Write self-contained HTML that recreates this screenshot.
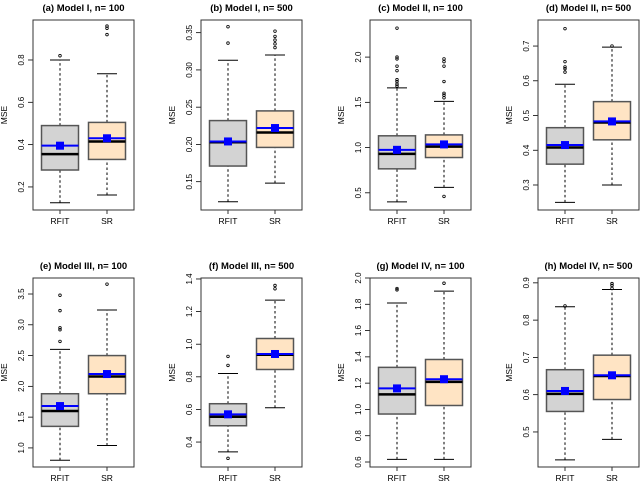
<!DOCTYPE html>
<html><head><meta charset="utf-8"><style>
html,body{margin:0;padding:0;background:#fff;}
svg{display:block;font-family:"Liberation Sans",Arial,sans-serif;}
</style></head><body>
<svg id="chart" width="640" height="482" viewBox="0 0 640 482"></svg>
<script>
const panelTitles = ["(a) Model I, n= 100","(b) Model I, n= 500","(c) Model II, n= 100","(d) Model II, n= 500","(e) Model III, n= 100","(f) Model III, n= 500","(g) Model IV, n= 100","(h) Model IV, n= 500"];
const groups = ["RFIT","SR"];
const tickVals = [[0.2,0.4,0.6,0.8],[0.15,0.20,0.25,0.30,0.35],[0.5,1.0,1.5,2.0],[0.3,0.4,0.5,0.6,0.7],[1.0,1.5,2.0,2.5,3.0,3.5],[0.4,0.6,0.8,1.0,1.2,1.4],[0.6,0.8,1.0,1.2,1.4,1.6,1.8,2.0],[0.5,0.6,0.7,0.8,0.9]];
const tickLabels = [["0.2","0.4","0.6","0.8"],["0.15","0.20","0.25","0.30","0.35"],["0.5","1.0","1.5","2.0"],["0.3","0.4","0.5","0.6","0.7"],["1.0","1.5","2.0","2.5","3.0","3.5"],["0.4","0.6","0.8","1.0","1.2","1.4"],["0.6","0.8","1.0","1.2","1.4","1.6","1.8","2.0"],["0.5","0.6","0.7","0.8","0.9"]];
const yDomains = [[0.091,0.989],[0.112,0.367],[0.31,2.41],[0.228,0.775],[0.69,3.76],[0.247,1.406],[0.562,2.0],[0.406,0.913]];
// per panel: [RFIT, SR] each [low, q1, median, q3, high]
const fiveNum = [
 [[0.125,0.28,0.355,0.49,0.80],[0.162,0.33,0.415,0.505,0.735]],
 [[0.123,0.171,0.203,0.232,0.313],[0.148,0.196,0.216,0.245,0.32]],
 [[0.40,0.765,0.93,1.13,1.66],[0.56,0.89,1.01,1.14,1.51]],
 [[0.25,0.36,0.408,0.465,0.59],[0.30,0.43,0.48,0.54,0.697]],
 [[0.80,1.35,1.60,1.88,2.60],[1.04,1.88,2.16,2.50,3.24]],
 [[0.34,0.50,0.555,0.635,0.82],[0.61,0.845,0.935,1.035,1.27]],
 [[0.62,0.965,1.115,1.32,1.81],[0.62,1.03,1.21,1.38,1.90]],
 [[0.425,0.555,0.602,0.667,0.836],[0.48,0.587,0.65,0.706,0.882]]
];
const means = [[0.395,0.43],[0.204,0.222],[0.975,1.035],[0.415,0.483],[1.68,2.20],[0.57,0.94],[1.16,1.23],[0.61,0.652]];
const outliers = [
 [[0.82],[0.92,0.95,0.96]],
 [[0.336,0.358],[0.33,0.335,0.34,0.345,0.352]],
 [[1.68,1.70,1.73,1.75,1.85,1.90,1.98,2.0,2.32],[0.46,1.55,1.58,1.60,1.73,1.90,1.95,1.98]],
 [[0.625,0.635,0.64,0.655,0.75],[0.70]],
 [[2.73,2.92,2.95,3.23,3.48],[3.66]],
 [[0.30,0.87,0.925],[1.34,1.36]],
 [[1.91,1.92],[1.96]],
 [[0.838],[0.885,0.893,0.898]]
];

const NS="http://www.w3.org/2000/svg";
const svg=document.getElementById('chart');
function mk(tag,attrs,parent){const e=document.createElementNS(NS,tag);for(const k in attrs)e.setAttribute(k,attrs[k]);(parent||svg).appendChild(e);return e;}
const boxLefts=[33,201,370,538], boxW=101;
const rowTops=[20,278], rowBots=[210,467];
const fills=["#d3d3d3","#ffe4c4"];
for(let p=0;p<8;p++){
  const col=p%4,row=Math.floor(p/4);
  const L=boxLefts[col],T=rowTops[row],B=rowBots[row];
  const [d0,d1]=yDomains[p];
  const y=v=>B-(v-d0)/(d1-d0)*(B-T);
  const g=mk('g',{});
  
  
  const t=mk('text',{x:L+boxW/2,y:T-9,'text-anchor':'middle','font-size':'9.5','font-weight':'bold',fill:'#000'},g);
  t.textContent=panelTitles[p];
  
  
  const yl=mk('text',{x:0,y:0,'text-anchor':'middle','font-size':'8.5',fill:'#000',transform:`translate(${L-26},${(T+B)/2}) rotate(-90)`},g);
  yl.textContent='MSE';
  
  
  tickVals[p].forEach((v,i)=>{
    const yy=y(v);
    mk('line',{x1:L-5,x2:L,y1:yy,y2:yy,stroke:'#000','stroke-width':0.8},g);
    const tl=mk('text',{x:0,y:0,'text-anchor':'middle','font-size':'8','font-weight':'normal',fill:'#000',transform:`translate(${L-9},${yy}) rotate(-90)`},g);
    tl.textContent=tickLabels[p][i];
    
    
  });
  const xs=[L+27,L+74];
  for(let s=0;s<2;s++){
    const cx=xs[s],hw=18.5,f=fiveNum[p][s];
    const bg=mk('g',{},g);
    
    
    mk('line',{x1:cx,x2:cx,y1:y(f[0]),y2:y(f[1]),stroke:'#000','stroke-dasharray':'2.5,2.5','stroke-width':1},bg);
    mk('line',{x1:cx,x2:cx,y1:y(f[3]),y2:y(f[4]),stroke:'#000','stroke-dasharray':'2.5,2.5','stroke-width':1},bg);
    mk('line',{x1:cx-10,x2:cx+10,y1:y(f[0]),y2:y(f[0]),stroke:'#000','stroke-width':1},bg);
    mk('line',{x1:cx-10,x2:cx+10,y1:y(f[4]),y2:y(f[4]),stroke:'#000','stroke-width':1},bg);
    mk('rect',{x:cx-hw,y:y(f[3]),width:2*hw,height:y(f[1])-y(f[3]),fill:fills[s],stroke:'#555','stroke-width':1.5},bg);
    mk('line',{x1:cx-hw,x2:cx+hw,y1:y(f[2]),y2:y(f[2]),stroke:'#000','stroke-width':2.5},bg);
    const m=y(means[p][s]);
    mk('line',{x1:cx-hw,x2:cx+hw,y1:m,y2:m,stroke:'#0000ff','stroke-width':2},bg);
    mk('rect',{x:cx-4,y:m-4,width:8,height:8,fill:'#0000ff'},bg);
    outliers[p][s].forEach(v=>{mk('circle',{cx:cx,cy:y(v),r:1.3,fill:'none',stroke:'#000','stroke-width':0.8},bg);});
    mk('line',{x1:cx,x2:cx,y1:B,y2:B+4,stroke:'#000','stroke-width':0.8},g);
    const xl=mk('text',{x:cx,y:B+14,'text-anchor':'middle','font-size':'8.5',fill:'#000'},g);
    xl.textContent=groups[s];
    
    
  }
  const fr=mk('rect',{x:L,y:T,width:boxW,height:B-T,fill:'none',stroke:'#333','stroke-width':1},g);
  
  
}
</script>
</body></html>
